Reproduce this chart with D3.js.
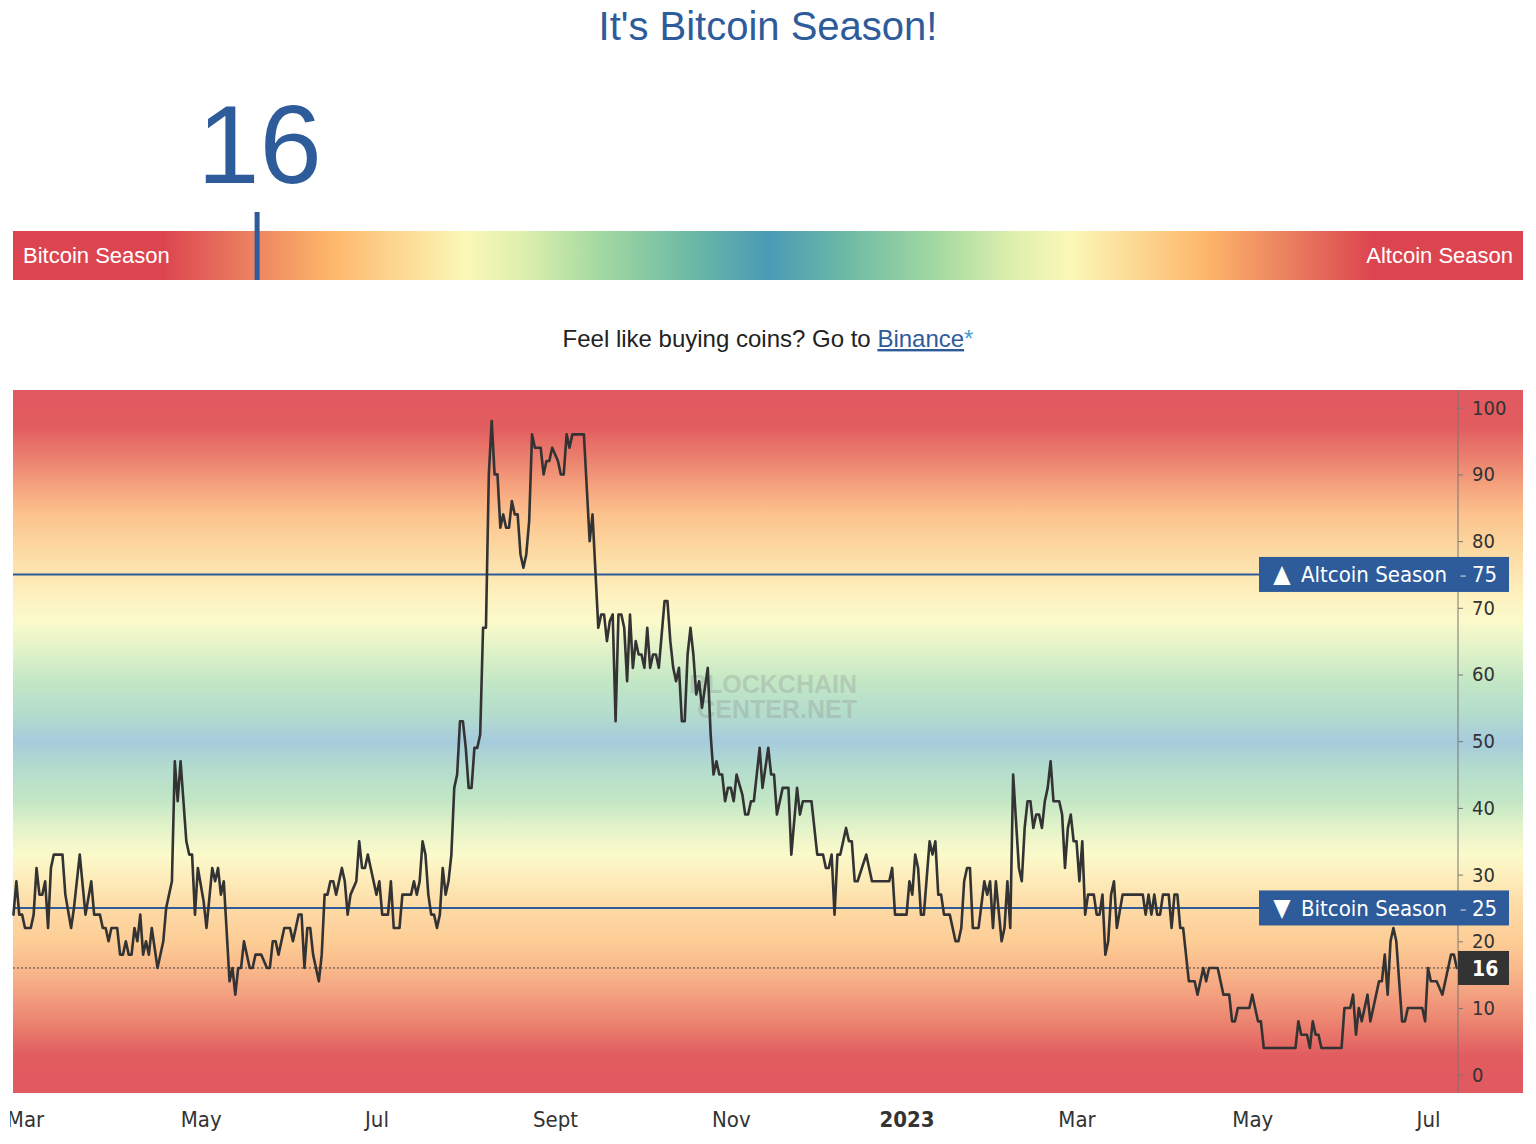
<!DOCTYPE html>
<html><head><meta charset="utf-8">
<script src="https://cdn.jsdelivr.net/npm/d3@7"></script>
<style>
html,body{margin:0;padding:0;background:#fff;}
svg{display:block;}
</style></head>
<body><svg id="c" width="1536" height="1144"></svg>
<script>
// ---------------- DATA ----------------
const titleText = "It's Bitcoin Season!";
const currentIndex = 16;
const startDate = Date.UTC(2022, 1, 24); // day 0 of the series
const dayOffsets = [1,2,3,4,5,7,8,9,10,11,12,13,14,15,18,19,21,22,24,26,28,29,31,32,33,34,35,37,38,39,40,41,42,43,44,45,46,47,48,49,51,53,54,55,56,57,58,59,61,62,63,64,65,
67,68,70,71,72,73,74,76,77,78,79,80,81,83,84,85,87,89,90,91,92,93,95,97,98,100,101,102,103,104,105,107,108,109,110,111,112,113,115,116,117,118,120,121,122,123,124,125,127,128,129,
131,132,133,135,136,139,140,141,142,143,144,145,146,147,148,149,150,151,152,153,154,155,156,157,158,159,160,161,162,163,164,165,166,167,168,169,170,171,172,173,174,175,176,177,178,179,180,
181,182,184,185,186,187,188,190,191,192,193,194,195,199,201,202,204,205,206,207,208,209,210,211,212,213,214,215,216,217,218,219,220,221,222,223,224,225,227,228,229,230,231,232,233,234,235,236,237,238,239,240,
242,243,244,245,246,247,248,249,250,251,252,254,255,256,257,258,260,261,263,264,265,266,268,270,271,273,274,275,278,280,282,283,284,285,286,287,288,290,291,292,293,294,297,299,305,306,307,311,312,313,314,315,316,317,
319,320,321,322,323,324,326,328,329,330,331,332,333,334,336,338,339,340,341,342,344,345,346,347,348,350,351,352,353,354,355,356,357,358,359,360,361,362,364,365,366,367,368,369,370,371,372,373,374,376,377,378,379,380,
381,382,383,384,386,393,394,395,396,397,398,399,400,402,403,404,405,406,407,409,411,412,414,415,416,419,421,423,424,425,426,430,431,433,434,435,446,447,448,450,451,452,453,454,455,462,463,465,466,467,468,469,471,472,
474,475,476,477,478,479,480,481,483,484,485,490,491,492,493,495,497,498,500,501,502];
const indexValues = [24,29,24,24,22,22,24,31,27,27,29,22,31,33,33,27,22,25,33,24,29,24,24,22,22,20,22,22,18,18,20,18,18,22,20,24,18,20,18,22,16,20,25,27,29,47,41,47,35,33,33,24,31,
26,22,31,29,31,27,29,14,16,12,16,16,20,16,16,18,18,16,16,20,20,18,22,22,20,24,24,16,22,22,18,14,18,27,27,29,29,27,31,29,24,27,29,35,31,31,33,31,27,29,24,
24,29,22,22,27,27,29,27,29,35,33,27,24,24,22,24,31,27,29,33,43,45,53,53,49,43,43,49,49,51,67,67,90,98,90,90,82,84,82,82,86,84,84,78,76,78,83,
96,94,94,90,92,92,94,92,90,90,96,94,96,96,80,84,67,69,69,65,68,69,53,69,69,67,59,69,61,65,63,63,61,67,61,63,63,61,71,71,65,61,59,61,53,53,63,67,63,57,59,55,
61,51,45,47,45,45,41,43,43,41,45,42,39,39,41,41,49,43,49,45,45,39,43,43,33,43,39,41,41,33,33,31,31,33,24,33,33,37,35,35,29,29,33,29,29,31,24,24,29,27,33,31,24,24,
35,33,35,27,27,24,24,20,20,22,29,31,31,22,22,29,27,29,22,29,20,22,29,22,45,31,29,37,41,41,37,39,39,37,41,43,47,41,41,39,31,37,39,35,35,29,35,24,27,27,24,24,27,18,
20,27,29,22,27,27,24,27,24,27,24,24,27,27,22,27,27,22,22,14,14,12,16,14,16,16,12,12,8,8,10,10,12,8,8,4,4,8,6,6,4,8,6,6,4,4,10,10,12,6,10,8,12,8,
12,14,14,18,12,20,22,20,8,8,10,10,8,16,14,14,12,14,18,18,16];
const yTickValues = [0,10,20,30,40,50,60,70,80,90,100];
const thresholdValues = [75, 25];
const thresholdLabels = ["Altcoin Season", "Bitcoin Season"];
const thresholdArrows = ["\u25B2", "\u25BC"];
const monthTickDates = ["2022-03-01","2022-05-01","2022-07-01","2022-09-01","2022-11-01","2023-01-01","2023-03-01","2023-05-01","2023-07-01"];
const monthTickLabels = ["Mar","May","Jul","Sept","Nov","2023","Mar","May","Jul"];
const gaugeStopOffsets = [0,10,16,21,25,30,34,39,45,50,55,61,66,70,75,79,84,90,100];
const gaugeStopColors = ["#dc4550","#dc4550","#ec8460","#fdb66a","#fdd48e","#fbf8b6","#dcefac","#a2d8a1","#6cb9a6","#4a9ab6","#6cb9a6","#a2d8a1","#dcefac","#fbf8b6","#fdd48e","#fdb66a","#ec8460","#dc4550","#dc4550"];
const bgStopValues = [0,3,8,12,16,20,25,29,33,37,41,46,50,54,59,64,68,72,76,80,84,88,92,97,100];
const bgStopColors = ["#e15a5f","#e25d60","#ec8470","#f3a080","#f9b98b","#fdcd96","#fddaa6","#fdebb8","#fbfacb","#e3f3c9","#c3e7c5","#b3dccd","#a6cbdd","#b3dccd","#c3e7c5","#e3f3c9","#fbfacb","#fdf1bf","#fde2ad","#fdd49c","#fcc28d","#f6a47e","#ec8470","#e25d60","#e15a5f"];

// ---------------- LAYOUT ----------------
const blue = "#2e5b9a";
const axisFont = "'DejaVu Sans Condensed','DejaVu Sans',sans-serif";
const headFont = "'Liberation Sans',Arial,Helvetica,sans-serif";
const plot = {left: 13, right: 1458, top: 390, bottom: 1093, bgRight: 1523};
const gauge = {left: 13, right: 1523, top: 231, bottom: 280};

const svg = d3.select("#c");
const defs = svg.append("defs");

const series = dayOffsets.map((d, i) => ({date: new Date(startDate + d * 86400000), value: indexValues[i]}));

const x = d3.scaleUtc()
  .domain([new Date(Date.UTC(2022,1,24,20)), new Date(Date.UTC(2023,6,11,10))])
  .range([plot.left, plot.right]);
const y = d3.scaleLinear().domain([0, 100]).range([1074.7, 407.7]);
const g = d3.scaleLinear().domain([0, 100]).range([gauge.left, gauge.right]);

// ---- header
svg.append("text").attr("x", 768).attr("y", 40).attr("text-anchor", "middle")
  .attr("font-family", headFont).attr("font-size", 40).attr("fill", blue).text(titleText);

svg.append("text").attr("x", g(currentIndex) + 5).attr("y", 183).attr("text-anchor", "middle")
  .attr("font-family", headFont).attr("font-size", 112).attr("fill", blue).text(currentIndex);

// ---- gauge
const gg = defs.append("linearGradient").attr("id", "gaugeGrad").attr("x1", 0).attr("x2", 1).attr("y1", 0).attr("y2", 0);
gaugeStopOffsets.forEach((o, i) => gg.append("stop").attr("offset", o + "%").attr("stop-color", gaugeStopColors[i]));
svg.append("rect").attr("x", gauge.left).attr("y", gauge.top).attr("width", gauge.right - gauge.left)
  .attr("height", gauge.bottom - gauge.top).attr("fill", "url(#gaugeGrad)");
svg.append("text").attr("x", 23).attr("y", 263).attr("font-family", headFont).attr("font-size", 22)
  .attr("fill", "#fff").text("Bitcoin Season");
svg.append("text").attr("x", 1513).attr("y", 263).attr("text-anchor", "end").attr("font-family", headFont)
  .attr("font-size", 22).attr("fill", "#fff").text("Altcoin Season");
svg.append("rect").attr("x", g(currentIndex)).attr("y", 212).attr("width", 5).attr("height", gauge.bottom - 212).attr("fill", blue);

// ---- promo line
const promo = svg.append("text").attr("x", 768).attr("y", 347).attr("text-anchor", "middle")
  .attr("font-family", headFont).attr("font-size", 24).attr("fill", "#222");
promo.append("tspan").text("Feel like buying coins? Go to ");
promo.append("tspan").attr("fill", blue).attr("text-decoration", "underline").text("Binance");
promo.append("tspan").attr("fill", "#4a9fd0").text("*");

// ---- chart background
const bg = defs.append("linearGradient").attr("id", "bgGrad").attr("gradientUnits", "userSpaceOnUse")
  .attr("x1", 0).attr("x2", 0).attr("y1", y(0)).attr("y2", y(100));
bgStopValues.forEach((v, i) => bg.append("stop").attr("offset", v / 100).attr("stop-color", bgStopColors[i]));
svg.append("rect").attr("x", plot.left).attr("y", plot.top).attr("width", plot.bgRight - plot.left)
  .attr("height", plot.bottom - plot.top).attr("fill", "url(#bgGrad)");

// ---- watermark
const wm = svg.append("g").attr("font-family", headFont).attr("font-weight", "bold").attr("font-size", 25)
  .attr("fill", "#8a8a8a").attr("fill-opacity", 0.3).attr("text-anchor", "end");
wm.append("text").attr("x", 857).attr("y", 693).text("BLOCKCHAIN");
wm.append("text").attr("x", 857).attr("y", 718).text("CENTER.NET");

// ---- current value dotted line
svg.append("line").attr("x1", plot.left).attr("x2", plot.right).attr("y1", y(currentIndex)).attr("y2", y(currentIndex))
  .attr("stroke", "#444").attr("stroke-width", 1).attr("stroke-dasharray", "2,2");

// ---- threshold lines
thresholdValues.forEach(v => {
  svg.append("line").attr("x1", plot.left).attr("x2", 1260).attr("y1", y(v)).attr("y2", y(v))
    .attr("stroke", blue).attr("stroke-width", 2);
});

// ---- series line
svg.append("path").datum(series)
  .attr("d", d3.line().x(d => x(d.date)).y(d => y(d.value)))
  .attr("fill", "none").attr("stroke", "#333").attr("stroke-width", 2.6)
  .attr("stroke-linejoin", "round").attr("stroke-linecap", "round");

// ---- y axis (right)
svg.append("line").attr("x1", plot.right).attr("x2", plot.right).attr("y1", plot.top).attr("y2", plot.bottom)
  .attr("stroke", "#777").attr("stroke-width", 1);
const yAxis = d3.axisRight(y).tickValues(yTickValues).tickSize(5).tickPadding(9);
const yg = svg.append("g").attr("transform", `translate(${plot.right},0)`).call(yAxis);
yg.select(".domain").remove();
yg.selectAll(".tick line").attr("stroke", "#777");
yg.selectAll(".tick text").attr("font-family", axisFont).attr("font-size", 20).attr("fill", "#333")
  .style("font-stretch", "condensed");

// ---- threshold labels
thresholdValues.forEach((v, i) => {
  const cy = y(v);
  svg.append("rect").attr("x", 1259).attr("y", cy - 17.5).attr("width", 250).attr("height", 35).attr("fill", blue);
  svg.append("text").attr("x", 1282).attr("y", cy + 8).attr("text-anchor", "middle")
    .attr("font-family", axisFont).attr("font-size", 25).attr("fill", "#fff")
    .text(thresholdArrows[i]);
  svg.append("text").attr("x", 1447).attr("y", cy + 8).attr("text-anchor", "end")
    .attr("font-family", axisFont).style("font-stretch", "condensed").attr("font-size", 22).attr("fill", "#fff")
    .text(thresholdLabels[i]);
  svg.append("text").attr("x", 1463).attr("y", cy + 8).attr("text-anchor", "middle")
    .attr("font-family", axisFont).style("font-stretch", "condensed").attr("font-size", 22).attr("fill", "#9aa8c4")
    .text("-");
  svg.append("text").attr("x", 1472).attr("y", cy + 8)
    .attr("font-family", axisFont).style("font-stretch", "condensed").attr("font-size", 22).attr("fill", "#fff")
    .text(v);
});

// ---- current value label
svg.append("rect").attr("x", plot.right).attr("y", y(currentIndex) - 17).attr("width", 51).attr("height", 34).attr("fill", "#333");
svg.append("text").attr("x", 1472).attr("y", y(currentIndex) + 8)
  .attr("font-family", axisFont).style("font-stretch", "condensed").attr("font-weight", "bold")
  .attr("font-size", 21).attr("fill", "#fff").text(currentIndex);

// ---- x axis (clipped at the chart's left edge)
defs.append("clipPath").attr("id", "xclip").append("rect")
  .attr("x", 10).attr("y", plot.bottom).attr("width", 1526).attr("height", 1144 - plot.bottom);
const tickDates = monthTickDates.map(s => new Date(s + "T00:00:00Z"));
const xAxis = d3.axisBottom(x).tickValues(tickDates).tickFormat((d, i) => monthTickLabels[i]).tickSize(0).tickPadding(18);
const xg = svg.append("g").attr("clip-path", "url(#xclip)").append("g")
  .attr("transform", `translate(0,${plot.bottom})`).call(xAxis);
xg.select(".domain").remove();
xg.selectAll(".tick text").attr("font-family", axisFont).style("font-stretch", "condensed")
  .attr("font-size", 22).attr("fill", "#333")
  .attr("font-weight", (d, i) => monthTickLabels[i] === "2023" ? "bold" : "normal");
</script>
</body></html>
